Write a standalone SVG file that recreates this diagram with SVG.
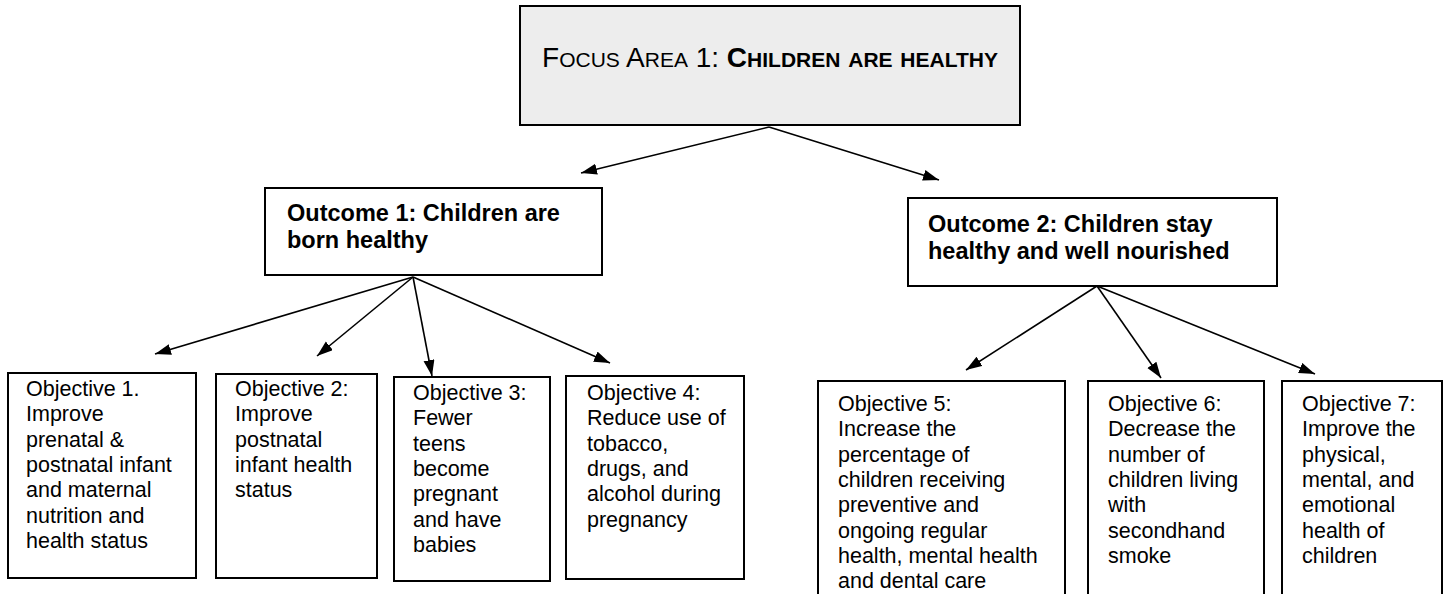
<svg xmlns="http://www.w3.org/2000/svg" width="1448" height="594" viewBox="0 0 1448 594">
<defs>
<marker id="ah" markerUnits="userSpaceOnUse" markerWidth="17" markerHeight="12" refX="16" refY="5.5" orient="auto">
<path d="M0,0 L16,5.5 L0,11 z" fill="#000"/>
</marker>
</defs>
<style>
.box{fill:#fff;stroke:#000;stroke-width:2}
.top{fill:#ededed;stroke:#000;stroke-width:2}
.obj{font-family:"Liberation Sans",Arial,sans-serif;font-size:21.5px;fill:#000}
.out{font-family:"Liberation Sans",Arial,sans-serif;font-size:23.5px;font-weight:bold;fill:#000}
.ttl{font-family:"Liberation Sans",Arial,sans-serif;font-size:28px;fill:#000}
.sc{font-size:21px}
.b{font-weight:bold}
.con line{stroke:#000;stroke-width:1.6;marker-end:url(#ah)}
</style>
<rect width="1448" height="594" fill="#fff"/>

<g id="focus">
<rect class="top" x="520" y="6" width="500" height="119"/>
<text class="ttl" x="770" y="67" text-anchor="middle">F<tspan class="sc">OCUS</tspan> A<tspan class="sc">REA</tspan> 1: <tspan class="b">C<tspan class="sc">HILDREN</tspan> <tspan class="sc">ARE</tspan> <tspan class="sc">HEALTHY</tspan></tspan></text>
</g>

<g id="outcome1">
<rect class="box" x="265" y="188" width="337" height="87"/>
<text class="out" x="287" y="221">Outcome 1: Children are</text>
<text class="out" x="287" y="248">born healthy</text>
</g>

<g id="outcome2">
<rect class="box" x="908" y="198" width="369" height="88"/>
<text class="out" x="928" y="232">Outcome 2: Children stay</text>
<text class="out" x="928" y="259">healthy and well nourished</text>
</g>

<g id="objective1">
<rect class="box" x="8" y="373" width="188" height="205"/>
<text class="obj" x="26" y="396"><tspan x="26">Objective 1.</tspan><tspan x="26" dy="25.3">Improve</tspan><tspan x="26" dy="25.3">prenatal &amp;</tspan><tspan x="26" dy="25.3">postnatal infant</tspan><tspan x="26" dy="25.3">and maternal</tspan><tspan x="26" dy="25.3">nutrition and</tspan><tspan x="26" dy="25.3">health status</tspan></text>
</g>

<g id="objective2">
<rect class="box" x="216" y="374" width="161" height="204"/>
<text class="obj" x="235" y="396"><tspan x="235">Objective 2:</tspan><tspan x="235" dy="25.3">Improve</tspan><tspan x="235" dy="25.3">postnatal</tspan><tspan x="235" dy="25.3">infant health</tspan><tspan x="235" dy="25.3">status</tspan></text>
</g>

<g id="objective3">
<rect class="box" x="394" y="377" width="156" height="204"/>
<text class="obj" x="413" y="400"><tspan x="413">Objective 3:</tspan><tspan x="413" dy="25.3">Fewer</tspan><tspan x="413" dy="25.3">teens</tspan><tspan x="413" dy="25.3">become</tspan><tspan x="413" dy="25.3">pregnant</tspan><tspan x="413" dy="25.3">and have</tspan><tspan x="413" dy="25.3">babies</tspan></text>
</g>

<g id="objective4">
<rect class="box" x="566" y="376" width="178" height="203"/>
<text class="obj" x="587" y="400"><tspan x="587">Objective 4:</tspan><tspan x="587" dy="25.3">Reduce use of</tspan><tspan x="587" dy="25.3">tobacco,</tspan><tspan x="587" dy="25.3">drugs, and</tspan><tspan x="587" dy="25.3">alcohol during</tspan><tspan x="587" dy="25.3">pregnancy</tspan></text>
</g>

<g id="objective5">
<rect class="box" x="818" y="381" width="247" height="230"/>
<text class="obj" x="838" y="411"><tspan x="838">Objective 5:</tspan><tspan x="838" dy="25.3">Increase the</tspan><tspan x="838" dy="25.3">percentage of</tspan><tspan x="838" dy="25.3">children receiving</tspan><tspan x="838" dy="25.3">preventive and</tspan><tspan x="838" dy="25.3">ongoing regular</tspan><tspan x="838" dy="25.3">health, mental health</tspan><tspan x="838" dy="25.3">and dental care</tspan></text>
</g>

<g id="objective6">
<rect class="box" x="1088" y="381" width="176" height="230"/>
<text class="obj" x="1108" y="411"><tspan x="1108">Objective 6:</tspan><tspan x="1108" dy="25.3">Decrease the</tspan><tspan x="1108" dy="25.3">number of</tspan><tspan x="1108" dy="25.3">children living</tspan><tspan x="1108" dy="25.3">with</tspan><tspan x="1108" dy="25.3">secondhand</tspan><tspan x="1108" dy="25.3">smoke</tspan></text>
</g>

<g id="objective7">
<rect class="box" x="1282" y="381" width="160" height="230"/>
<text class="obj" x="1302" y="411"><tspan x="1302">Objective 7:</tspan><tspan x="1302" dy="25.3">Improve the</tspan><tspan x="1302" dy="25.3">physical,</tspan><tspan x="1302" dy="25.3">mental, and</tspan><tspan x="1302" dy="25.3">emotional</tspan><tspan x="1302" dy="25.3">health of</tspan><tspan x="1302" dy="25.3">children</tspan></text>
</g>

<g id="connectors" class="con">
<line x1="769" y1="127" x2="581" y2="173"/>
<line x1="769" y1="127" x2="939" y2="180"/>
<line x1="413" y1="277" x2="155" y2="354"/>
<line x1="413" y1="277" x2="317" y2="356"/>
<line x1="413" y1="277" x2="432" y2="376"/>
<line x1="413" y1="277" x2="610" y2="363"/>
<line x1="1097" y1="286" x2="966" y2="370"/>
<line x1="1097" y1="286" x2="1161" y2="378"/>
<line x1="1097" y1="286" x2="1315" y2="374"/>
</g>
</svg>
